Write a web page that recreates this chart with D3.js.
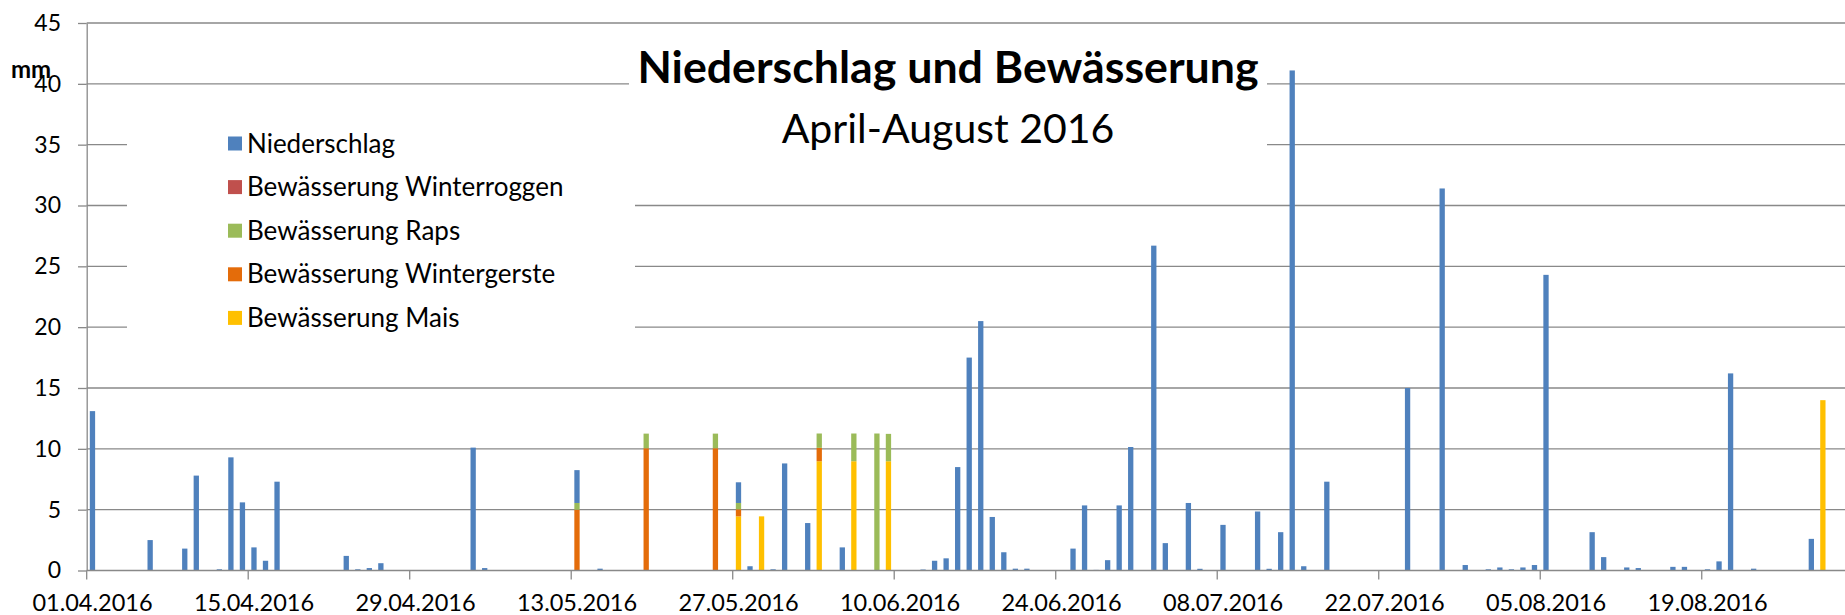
<!DOCTYPE html>
<html lang="de">
<head>
<meta charset="UTF-8">
<title>Niederschlag und Bewässerung</title>
<script src="https://d3js.org/d3.v7.min.js"></script>
<style>
  body { margin: 0; background: #fff; }
  text { font-family: Lato, "Open Sans", sans-serif; fill: #000; }
  .grid line { stroke: #898989; stroke-width: 1.3; }
  .axis path, .axis line { stroke: #898989; stroke-width: 1.3; }
</style>
</head>
<body>
<svg width="1845" height="615"></svg>
<script>
// Tagesreihen: [Datum, mm] – nur Tage mit Werten > 0
const niederschlag = [
  ["01.04", 13.1], ["06.04", 2.5], ["09.04", 1.8], ["10.04", 7.8], ["12.04", 0.1], ["13.04", 9.3],
  ["14.04", 5.6], ["15.04", 1.9], ["16.04", 0.8], ["17.04", 7.3], ["23.04", 1.2], ["24.04", 0.1],
  ["25.04", 0.2], ["26.04", 0.6], ["04.05", 10.1], ["05.05", 0.2], ["13.05", 2.7], ["15.05", 0.15],
  ["27.05", 1.7], ["28.05", 0.35], ["30.05", 0.1], ["31.05", 8.8], ["02.06", 3.9], ["05.06", 1.9],
  ["12.06", 0.08], ["13.06", 0.8], ["14.06", 1.0], ["15.06", 8.5], ["16.06", 17.5], ["17.06", 20.5],
  ["18.06", 4.4], ["19.06", 1.5], ["20.06", 0.15], ["21.06", 0.15], ["25.06", 1.8], ["26.06", 5.35],
  ["27.06", 0.05], ["28.06", 0.85], ["29.06", 5.35], ["30.06", 10.15], ["02.07", 26.7], ["03.07", 2.25],
  ["05.07", 5.55], ["06.07", 0.14], ["08.07", 3.75], ["11.07", 4.85], ["12.07", 0.14], ["13.07", 3.15],
  ["14.07", 41.1], ["15.07", 0.35], ["17.07", 7.3], ["24.07", 15.0], ["27.07", 31.4], ["29.07", 0.45],
  ["31.07", 0.1], ["01.08", 0.25], ["02.08", 0.1], ["03.08", 0.25], ["04.08", 0.45], ["05.08", 24.3],
  ["09.08", 3.15], ["10.08", 1.1], ["12.08", 0.25], ["13.08", 0.2], ["16.08", 0.3], ["17.08", 0.3],
  ["19.08", 0.1], ["20.08", 0.75], ["21.08", 16.2], ["23.08", 0.15], ["28.08", 2.6]
];
const winterroggen = [];
const raps = [
  ["13.05", 0.55], ["19.05", 1.2], ["25.05", 1.2], ["27.05", 0.52], ["03.06", 1.18],
  ["06.06", 2.28], ["08.06", 11.26], ["09.06", 2.25]
];
const wintergerste = [["13.05", 5.0], ["19.05", 10.05], ["25.05", 10.05], ["27.05", 0.58], ["03.06", 1.1]];
const mais = [["27.05", 4.45], ["29.05", 4.45], ["03.06", 8.98], ["06.06", 8.98], ["09.06", 8.98], ["29.08", 14.0]];

const seriesNames = ["Niederschlag", "Bewässerung Winterroggen", "Bewässerung Raps", "Bewässerung Wintergerste", "Bewässerung Mais"];
const seriesColors = ["#4f81bd", "#c0504d", "#9bbb59", "#e46c0a", "#ffc000"];
const seriesData = [niederschlag, winterroggen, raps, wintergerste, mais];

const yTicks = [0, 5, 10, 15, 20, 25, 30, 35, 40, 45];
const xTickLabels = ["01.04.2016", "15.04.2016", "29.04.2016", "13.05.2016", "27.05.2016", "10.06.2016",
  "24.06.2016", "08.07.2016", "22.07.2016", "05.08.2016", "19.08.2016"];

// Kategorien: jeder Tag 01.04.–31.08.2016
const fmt = d3.timeFormat("%d.%m");
const days = d3.timeDay.range(new Date(2016, 3, 1), new Date(2016, 8, 1)).map(fmt);

const rows = days.map(day => {
  const r = { day };
  seriesNames.forEach((name, i) => {
    const hit = seriesData[i].find(p => p[0] === day);
    r[name] = hit ? hit[1] : 0;
  });
  return r;
});

const svg = d3.select("svg");
const left = 86.7, step = 11.536;
const x = d3.scaleBand().domain(days)
  .range([left, left + step * days.length])
  .paddingInner(0.54).paddingOuter(0.27);
const y = d3.scaleLinear().domain([0, 45]).range([570.5, 23]);

// Gitternetz
svg.append("g").attr("class", "grid")
  .selectAll("line").data(yTicks.slice(1)).join("line")
  .attr("x1", left).attr("x2", 1845)
  .attr("y1", d => y(d)).attr("y2", d => y(d));

// weiße Flächen hinter Legende und Titel
svg.append("rect").attr("x", 127).attr("y", 100).attr("width", 508).attr("height", 240).attr("fill", "#fff");
svg.append("rect").attr("x", 629).attr("y", 35).attr("width", 638).attr("height", 145).attr("fill", "#fff");

// Balken, gestapelt: Mais unten, Niederschlag oben
const stackKeys = seriesNames.slice().reverse();
const stacked = d3.stack().keys(stackKeys)(rows);
svg.append("g").selectAll("g").data(stacked).join("g")
  .attr("fill", s => seriesColors[seriesNames.indexOf(s.key)])
  .selectAll("rect").data(s => s.filter(d => d[1] > d[0])).join("rect")
  .attr("x", d => x(d.data.day))
  .attr("width", x.bandwidth())
  .attr("y", d => y(d[1]))
  .attr("height", d => y(d[0]) - y(d[1]));

// Y-Achse
const yAxis = svg.append("g").attr("class", "axis")
  .attr("transform", `translate(${left},0)`)
  .call(d3.axisLeft(y).tickValues(yTicks).tickSize(8.7).tickSizeOuter(0).tickPadding(17));
yAxis.selectAll("text").style("font-size", "23px").style("font-family", "Lato");

// X-Achse: Striche an Tagesgrenzen, alle 14 Tage
const xa = svg.append("g").attr("class", "axis");
xa.append("line").attr("x1", left).attr("x2", 1845).attr("y1", y(0)).attr("y2", y(0));
const tickDays = xTickLabels.map(l => l.slice(0, 5));
xa.selectAll(".tk").data(tickDays).join("line").attr("class", "tk")
  .attr("x1", d => x(d) - x.step() * 0.27).attr("x2", d => x(d) - x.step() * 0.27)
  .attr("y1", y(0)).attr("y2", y(0) + 9);
xa.selectAll("text").data(xTickLabels).join("text")
  .attr("x", d => x(d.slice(0, 5)) + x.bandwidth() / 2)
  .attr("y", 611)
  .attr("text-anchor", "middle")
  .style("font-size", "23.5px")
  .text(d => d);

// Einheit
svg.append("text").attr("x", 11).attr("y", 78).style("font-size", "24px").style("font-weight", "bold").text("mm");

// Titel
svg.append("text").attr("x", 948).attr("y", 83).attr("text-anchor", "middle")
  .style("font-size", "44.7px").style("font-weight", "bold").text("Niederschlag und Bewässerung");
svg.append("text").attr("x", 948).attr("y", 143).attr("text-anchor", "middle")
  .style("font-size", "41px").text("April-August 2016");

// Legende
const lg = svg.append("g").selectAll("g").data(seriesNames).join("g")
  .attr("transform", (d, i) => `translate(228,${143.5 + i * 43.6})`);
lg.append("rect").attr("x", 0).attr("y", -7).attr("width", 14).attr("height", 14)
  .attr("fill", (d, i) => seriesColors[i]);
lg.append("text").attr("x", 19).attr("y", 9).style("font-size", "26px").text(d => d);
</script>
</body>
</html>
